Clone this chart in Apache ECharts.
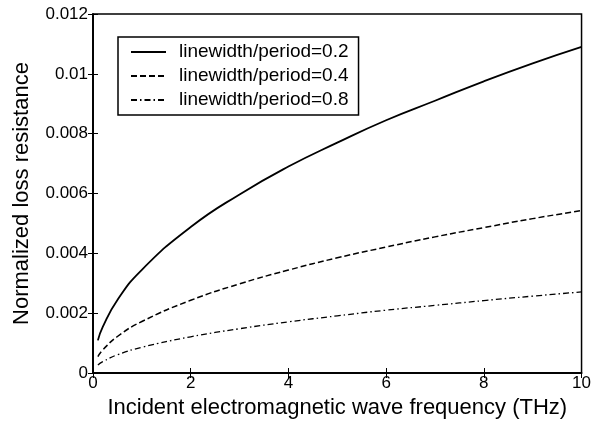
<!DOCTYPE html>
<html>
<head>
<meta charset="utf-8">
<script src="https://cdn.jsdelivr.net/npm/echarts@6/dist/echarts.min.js"></script>
<style>
  html, body { margin: 0; padding: 0; background: #fff; }
  #chart { width: 594px; height: 425px; }
</style>
</head>
<body>
<div id="chart"></div>
<script>
// frequency (THz)
var freq = [0.1, 0.2, 0.5, 1, 2, 3, 4, 5, 6, 7, 8, 9, 10];
// normalized loss resistance
var lw02 = [0.00109, 0.00154, 0.00244, 0.00345, 0.00488, 0.00597, 0.0069, 0.0077, 0.00845, 0.0091, 0.00975, 0.01035, 0.0109];
var lw04 = [0.00055, 0.00077, 0.00122, 0.00172, 0.00243, 0.00298, 0.00344, 0.00385, 0.00421, 0.00455, 0.00486, 0.00516, 0.00543];
var lw08 = [0.00027, 0.00038, 0.00061, 0.00086, 0.00121, 0.00148, 0.00171, 0.00191, 0.0021, 0.00226, 0.00242, 0.00257, 0.00271];
var names = ['linewidth/period=0.2', 'linewidth/period=0.4', 'linewidth/period=0.8'];

function pairs(ys) {
    return freq.map(function (x, i) { return [x, ys[i]]; });
}

var font = 'Liberation Sans, Arial, sans-serif';
var myChart = echarts.init(document.getElementById('chart'));

var axisBase = {
    axisLine: { lineStyle: { color: '#000', width: 1.5 } },
    axisTick: { inside: true, length: 5, lineStyle: { color: '#000' } },
    splitLine: { show: false }
};

myChart.setOption({
    animation: false,
    backgroundColor: '#fff',
    grid: { left: 93, top: 14, right: 10, bottom: 52, show: true, borderColor: '#000', borderWidth: 1.5 },
    legend: {
        left: 118, top: 37,
        orient: 'vertical',
        data: names,
        itemWidth: 35, itemHeight: 10, itemGap: 4,
        padding: [5, 10, 5, 12],
        borderColor: '#000', borderWidth: 1.5,
        backgroundColor: '#fff',
        itemStyle: { opacity: 0 },
        textStyle: { fontFamily: font, fontSize: 19, lineHeight: 20, color: '#000', padding: [0, 0, 0, 8] }
    },
    xAxis: [
        Object.assign({
            type: 'value', min: 0, max: 10, interval: 2,
            name: 'Incident electromagnetic wave frequency (THz)',
            nameLocation: 'middle', nameGap: 19,
            nameTextStyle: { fontFamily: font, fontSize: 22, color: '#000' },
            axisLabel: { fontFamily: font, fontSize: 17, color: '#000', margin: 2 }
        }, axisBase),
        Object.assign({
            type: 'value', min: 0, max: 10, interval: 2, position: 'top',
            axisLabel: { show: false }
        }, axisBase)
    ],
    yAxis: [
        Object.assign({
            type: 'value', min: 0, max: 0.012, interval: 0.002,
            name: 'Normalized loss resistance',
            nameLocation: 'middle', nameGap: 60,
            nameTextStyle: { fontFamily: font, fontSize: 22, color: '#000' },
            axisLabel: { fontFamily: font, fontSize: 17, color: '#000', margin: 5 }
        }, axisBase),
        Object.assign({
            type: 'value', min: 0, max: 0.012, interval: 0.002, position: 'right',
            axisLabel: { show: false }
        }, axisBase)
    ],
    series: [
        { name: names[0], type: 'line', smooth: true, symbol: 'none', data: pairs(lw02),
          lineStyle: { color: '#000', width: 1.8, type: 'solid' }, itemStyle: { color: '#000' } },
        { name: names[1], type: 'line', smooth: true, symbol: 'none', data: pairs(lw04),
          lineStyle: { color: '#000', width: 1.5, type: [6, 3] }, itemStyle: { color: '#000' } },
        { name: names[2], type: 'line', smooth: true, symbol: 'none', data: pairs(lw08),
          lineStyle: { color: '#000', width: 1.3, type: [6, 3, 1.5, 3] }, itemStyle: { color: '#000' } }
    ]
});
</script>
</body>
</html>
